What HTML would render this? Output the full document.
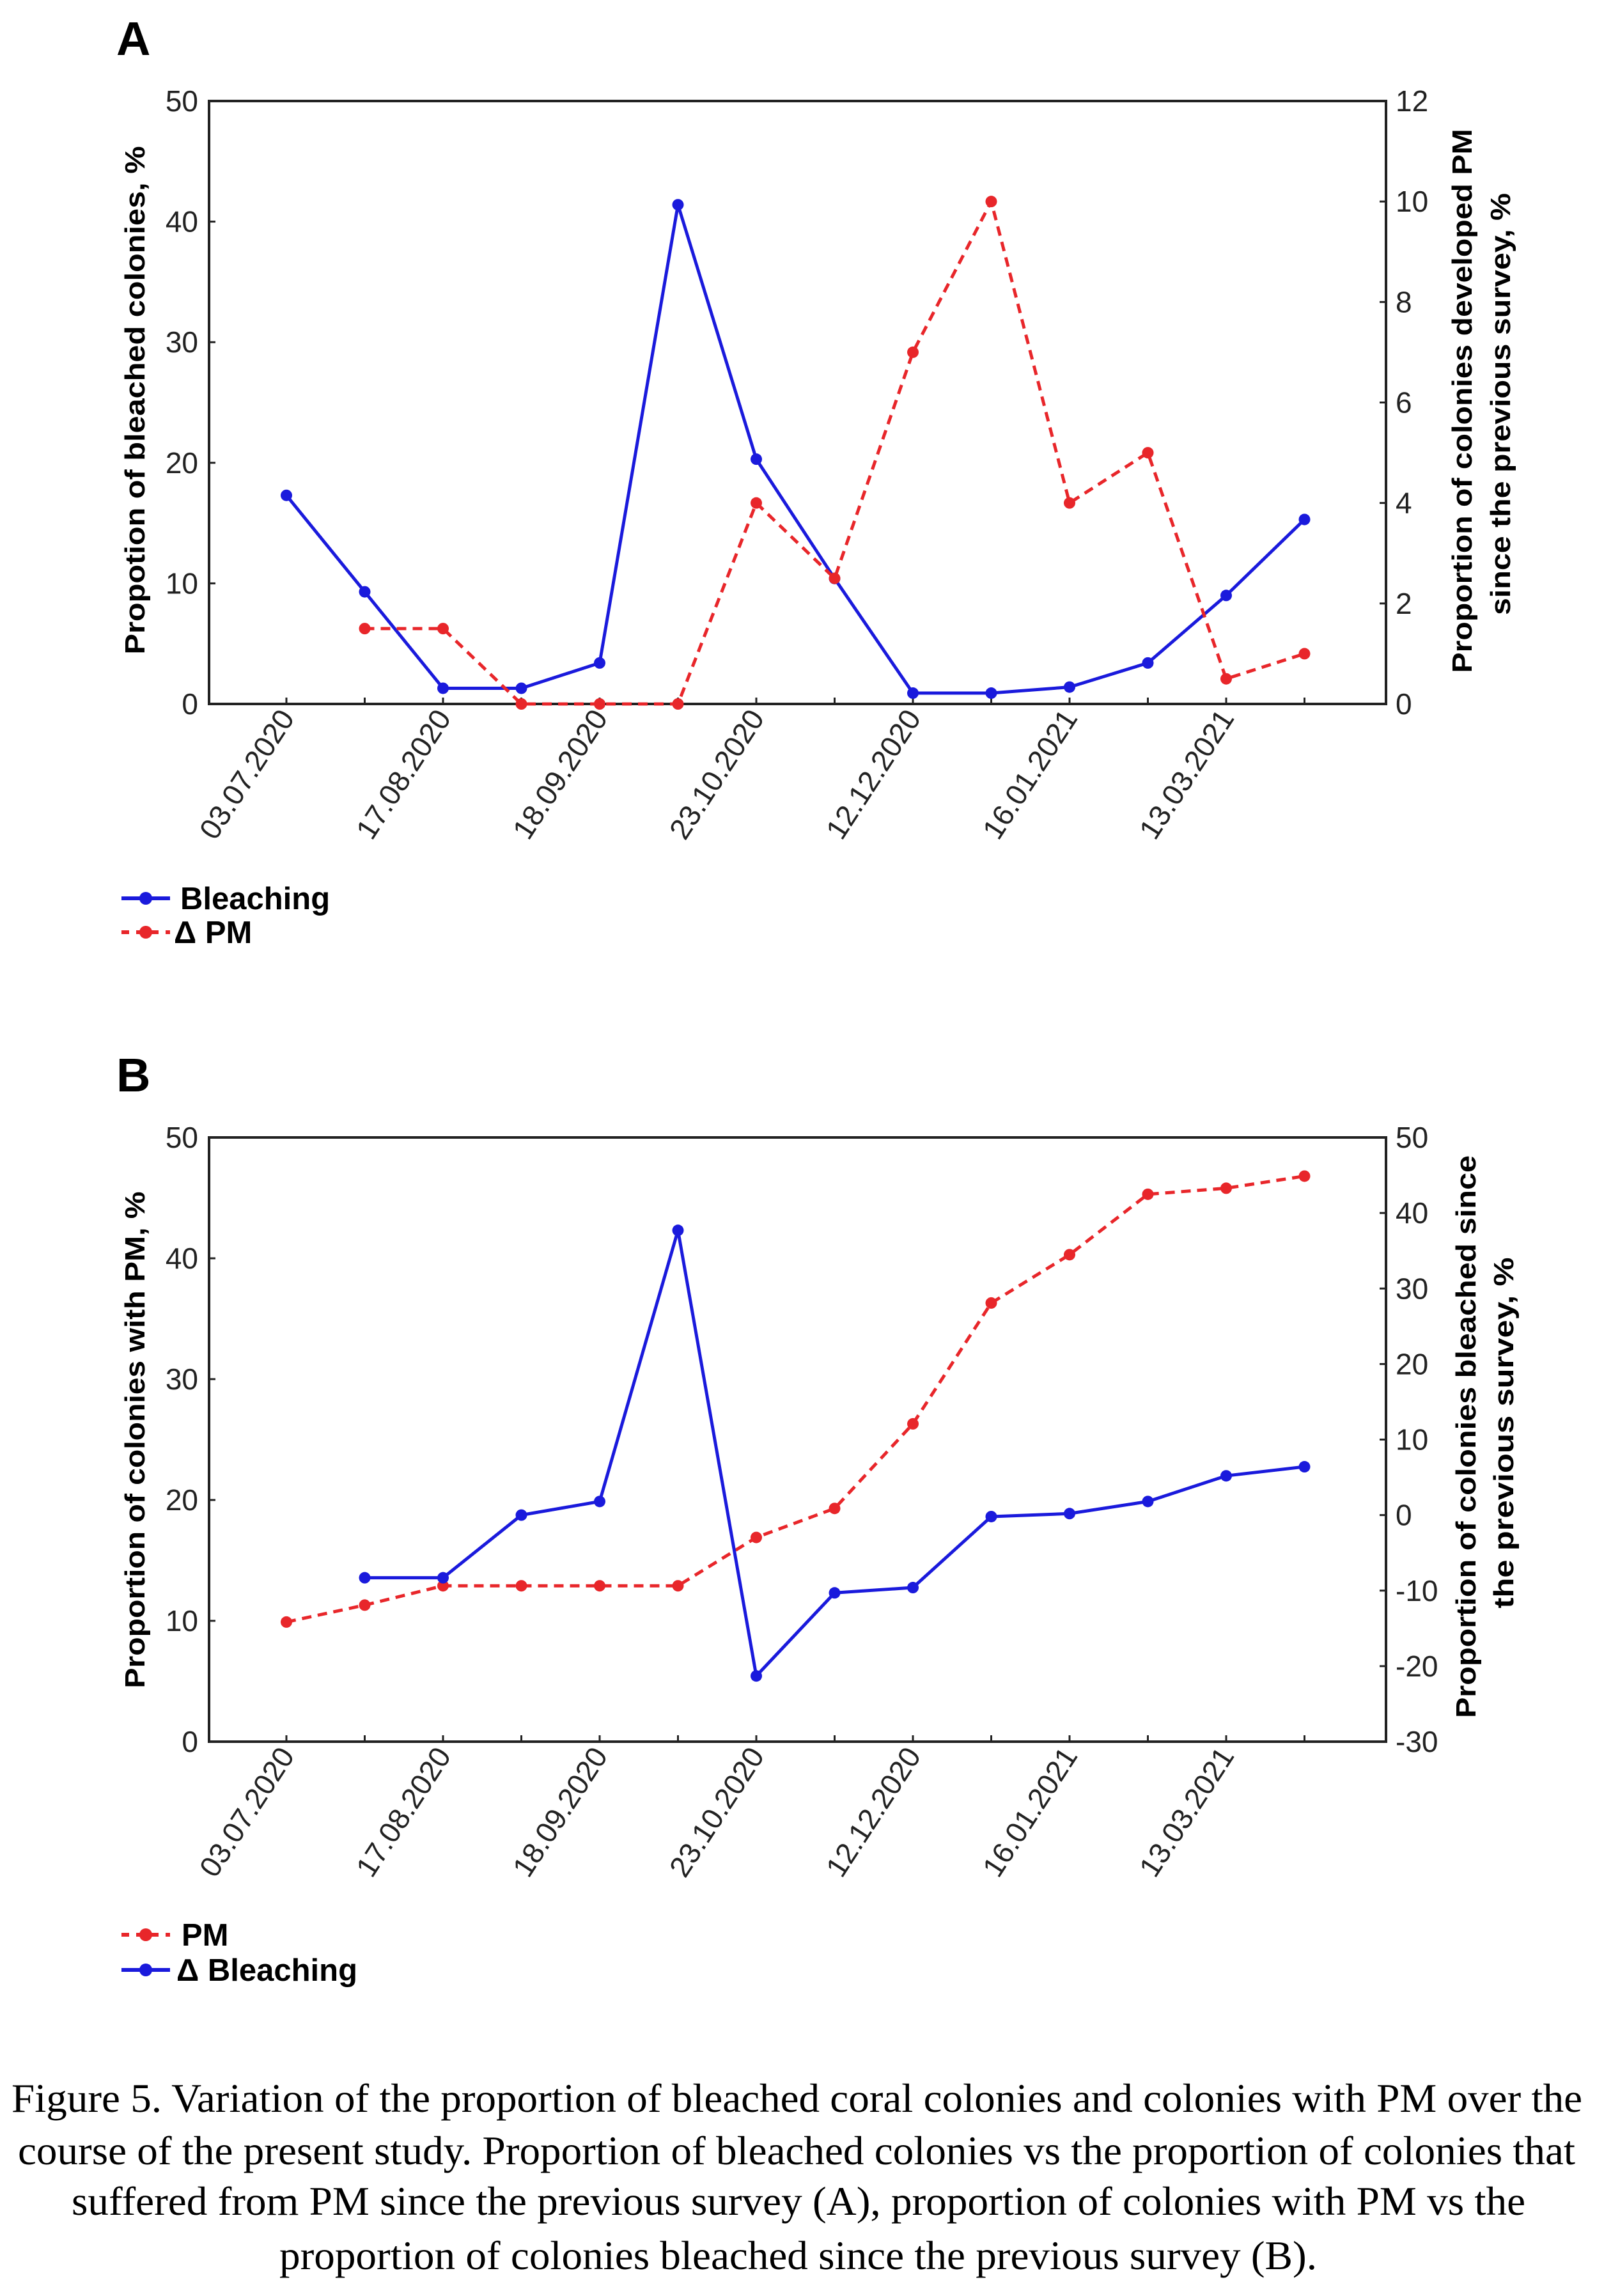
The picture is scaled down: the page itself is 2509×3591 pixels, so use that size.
<!DOCTYPE html>
<html><head><meta charset="utf-8"><style>
html,body{margin:0;padding:0;background:#fff;}
svg{display:block;}
text{font-family:"Liberation Sans",Arial,sans-serif;}
text.serif{font-family:"Liberation Serif","Times New Roman",serif;}
</style></head>
<body>
<svg id="fig" width="2509" height="3591" viewBox="0 0 2509 3591" xmlns="http://www.w3.org/2000/svg">
<g id="panelA"></g>
<g id="panelB"></g>
<g font-size="64" fill="#000">
<text class="serif" x="18" y="3303" textLength="2457" lengthAdjust="spacingAndGlyphs">Figure 5. Variation of the proportion of bleached coral colonies and colonies with PM over the</text>
<text class="serif" x="28" y="3385" textLength="2436" lengthAdjust="spacingAndGlyphs">course of the present study. Proportion of bleached colonies vs the proportion of colonies that</text>
<text class="serif" x="112" y="3464" textLength="2274" lengthAdjust="spacingAndGlyphs">suffered from PM since the previous survey (A), proportion of colonies with PM vs the</text>
<text class="serif" x="437" y="3549" textLength="1623" lengthAdjust="spacingAndGlyphs">proportion of colonies bleached since the previous survey (B).</text>
</g>
</svg>
<script>
const categories = ["03.07.2020","","17.08.2020","","18.09.2020","","23.10.2020","","12.12.2020","","16.01.2021","","13.03.2021",""];
const bleachingA = [17.3, 9.3, 1.3, 1.3, 3.4, 41.4, 20.3, 10.4, 0.9, 0.9, 1.4, 3.4, 9.0, 15.3];
const deltaPmA = [null, 1.5, 1.5, 0, 0, 0, 4, 2.5, 7, 10, 4, 5, 0.5, 1];
const pmB = [9.9, 11.3, 12.9, 12.9, 12.9, 12.9, 16.9, 19.3, 26.3, 36.3, 40.3, 45.3, 45.8, 46.8];
const deltaBleachB = [null, -8.3, -8.3, 0, 1.8, 37.7, -21.3, -10.3, -9.6, -0.2, 0.2, 1.8, 5.2, 6.4];
const leftTicksA = [0, 10, 20, 30, 40, 50];
const rightTicksA = [0, 2, 4, 6, 8, 10, 12];
const leftTicksB = [0, 10, 20, 30, 40, 50];
const rightTicksB = [-30, -20, -10, 0, 10, 20, 30, 40, 50];

const NS = "http://www.w3.org/2000/svg";
function mk(tag, attrs, parent, txt) {
  const e = document.createElementNS(NS, tag);
  for (const k in attrs) e.setAttribute(k, attrs[k]);
  if (txt !== undefined) e.textContent = txt;
  parent.appendChild(e);
  return e;
}
const BLUE = "#1a1adc", RED = "#e8262a";

function drawPanel(g, cfg) {
  const L = 327, R = 2168, T = cfg.top, B = cfg.bottom;
  const x0 = 448, step = 122.5;
  const xs = i => x0 + i * step;
  const yl = v => B - (v - cfg.lmin) / (cfg.lmax - cfg.lmin) * (B - T);
  const yr = v => B - (v - cfg.rmin) / (cfg.rmax - cfg.rmin) * (B - T);

  const lab = mk("text", {x: 182, y: cfg.top - 72, "font-size": 74, "font-weight": "bold"}, g, cfg.label);
  
  

  const frame = mk("path", {d: `M${L},${T} H${R} V${B} H${L} Z`, fill: "none", stroke: "#222", "stroke-width": 4}, g);
  
  

  cfg.lticks.forEach(v => {
    const t = mk("line", {x1: L, x2: L + 10, y1: yl(v), y2: yl(v), stroke: "#222", "stroke-width": 3}, g);
    
    
    const tx = mk("text", {x: 310, y: yl(v) + 16, "font-size": 46, "text-anchor": "end", fill: "#222"}, g, v);
    
    
  });
  cfg.rticks.forEach(v => {
    const t = mk("line", {x1: R - 10, x2: R, y1: yr(v), y2: yr(v), stroke: "#222", "stroke-width": 3}, g);
    
    
    const tx = mk("text", {x: 2183, y: yr(v) + 16, "font-size": 46, fill: "#222"}, g, v);
    
    
  });
  categories.forEach((c, i) => {
    const t = mk("line", {x1: xs(i), x2: xs(i), y1: B - 10, y2: B, stroke: "#222", "stroke-width": 3}, g);
    
    
    if (c) {
      const tx = mk("text", {x: xs(i) + 14, y: B + 22, "font-size": 46, "text-anchor": "end", fill: "#222",
        transform: `rotate(-57 ${xs(i) + 14} ${B + 22})`}, g, c);
      
      
    }
  });

  const lt = mk("text", {x: 0, y: 0, "font-size": 44, "font-weight": "bold", "text-anchor": "middle",
    textLength: cfg.ltLen, lengthAdjust: "spacingAndGlyphs",
    transform: `translate(226 ${cfg.ltY}) rotate(-90)`}, g, cfg.ltitle);
  
  
  cfg.rtitle.forEach((s, k) => {
    const rt = mk("text", {x: 0, y: 0, "font-size": 44, "font-weight": "bold", "text-anchor": "middle",
      textLength: cfg.rtLen[k], lengthAdjust: "spacingAndGlyphs",
      transform: `translate(${cfg.rtX[k]} ${cfg.rtY[k]}) rotate(-90)`}, g, s);
    
    
  });

  cfg.series.forEach(s => {
    const sc = s.axis === "left" ? yl : yr;
    let d = "";
    s.data.forEach((v, i) => { if (v === null) return; d += (d ? " L" : "M") + xs(i) + "," + sc(v); });
    const p = mk("path", {d: d, fill: "none", stroke: s.color, "stroke-width": 5,
      "stroke-dasharray": s.dash ? "15 10" : "none", "stroke-linejoin": "round"}, g);
    
    
    s.data.forEach((v, i) => {
      if (v === null) return;
      const c = mk("circle", {cx: xs(i), cy: sc(v), r: 9, fill: s.color}, g);
      
      
    });
  });

  cfg.legend.forEach((s, k) => {
    const y = cfg.legY[k];
    const ll = mk("line", {x1: 190, x2: 266, y1: y, y2: y, stroke: s.color, "stroke-width": 6,
      "stroke-dasharray": s.dash ? "12 11" : "none"}, g);
    
    
    const lc = mk("circle", {cx: 228, cy: y, r: 10, fill: s.color}, g);
    
    
    const lx = mk("text", {x: s.tx, y: y + 17, "font-size": 49, "font-weight": "bold"}, g, s.text);
    
    
  });
}

drawPanel(document.getElementById("panelA"), {
  label: "A", top: 158, bottom: 1101, lmin: 0, lmax: 50, rmin: 0, rmax: 12,
  lticks: leftTicksA, rticks: rightTicksA,
  ltitle: "Propotion of bleached colonies, %", ltLen: 795, ltY: 626,
  rtitle: ["Proportion of colonies developed PM", "since the previous survey, %"],
  rtLen: [851, 660], rtX: [2302, 2362], rtY: [627, 632],
  series: [
    {name: "bleaching", data: bleachingA, axis: "left", color: BLUE, dash: false},
    {name: "delta-pm", data: deltaPmA, axis: "right", color: RED, dash: true}
  ],
  legend: [{text: "Bleaching", color: BLUE, dash: false, tx: 282},
           {text: "Δ PM", color: RED, dash: true, tx: 272}],
  legY: [1405, 1458]
});
drawPanel(document.getElementById("panelB"), {
  label: "B", top: 1779, bottom: 2724, lmin: 0, lmax: 50, rmin: -30, rmax: 50,
  lticks: leftTicksB, rticks: rightTicksB,
  ltitle: "Proportion of colonies with PM, %", ltLen: 777, ltY: 2252,
  rtitle: ["Proportion of colonies bleached since", "the previous survey, %"],
  rtLen: [880, 549], rtX: [2308, 2367], rtY: [2247, 2241],
  series: [
    {name: "pm", data: pmB, axis: "left", color: RED, dash: true},
    {name: "delta-bleaching", data: deltaBleachB, axis: "right", color: BLUE, dash: false}
  ],
  legend: [{text: "PM", color: RED, dash: true, tx: 284},
           {text: "Δ Bleaching", color: BLUE, dash: false, tx: 276}],
  legY: [3026, 3081]
});
</script>
</body></html>
